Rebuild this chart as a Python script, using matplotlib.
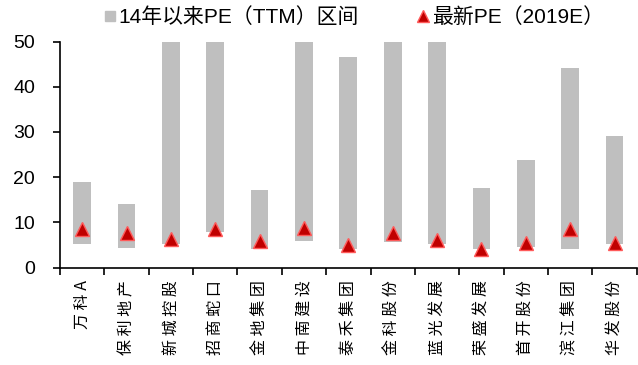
import matplotlib
matplotlib.use("Agg")
import matplotlib.pyplot as plt
import numpy as np
from matplotlib.lines import Line2D

plt.rcParams['font.family'] = ['Liberation Sans', 'Noto Sans CJK SC', 'DejaVu Sans']

companies = ["万科A", "保利地产", "新城控股", "招商蛇口", "金地集团", "中南建设", "泰禾集团",
             "金科股份", "蓝光发展", "荣盛发展", "首开股份", "滨江集团", "华发股份"]
pe_low = [5.1, 4.3, 5.1, 7.9, 4.0, 5.9, 4.1, 5.6, 5.1, 4.0, 4.5, 4.0, 5.1]
pe_high = [18.9, 14.0, 75.0, 62.0, 17.1, 68.0, 46.6, 58.0, 55.0, 17.7, 23.9, 44.2, 29.2]
pe_latest = [8.5, 7.6, 6.4, 8.5, 5.9, 8.8, 5.0, 7.6, 6.2, 4.2, 5.4, 8.5, 5.4]
y_ticks = [0, 10, 20, 30, 40, 50]

range_label = "14年以来PE（TTM）区间"
latest_label = "最新PE（2019E）"

bar_color = "#BFBFBF"
tri_face = "#C00000"
tri_edge = "#FF5A5A"

fig = plt.figure(figsize=(6.38, 3.65), dpi=100)
ax = fig.add_axes([0.094, 0.267, 0.904, 0.619])

x = np.arange(len(companies))
low = np.array(pe_low)
high = np.array(pe_high)
ax.bar(x, high - low, bottom=low, width=0.4, color=bar_color, zorder=2)
ax.plot(x, pe_latest, linestyle="none", marker="^", markersize=10,
        markerfacecolor=tri_face, markeredgecolor=tri_edge, markeredgewidth=1.0, zorder=3)

ax.set_xlim(-0.5, len(companies) - 0.5)
ax.set_ylim(0, 50)
ax.set_yticks(y_ticks)
ax.set_yticklabels([str(v) for v in y_ticks], fontsize=14)

# category names are written vertically, one spaced character after another
spaced_names = [" ".join(name) for name in companies]
ax.set_xticks(np.arange(len(companies) + 1) - 0.5)
ax.set_xticklabels([])
ax.set_xticks(x, minor=True)
ax.set_xticklabels(spaced_names, minor=True, rotation=90, fontsize=11.5,
                   family=['Noto Sans CJK SC', 'Liberation Sans'], va='top', ha='center')
ax.tick_params(axis='x', which='minor', length=0, pad=9)
ax.tick_params(axis='x', which='major', length=5, width=1.2, direction='out', color='black')
ax.tick_params(axis='y', length=5, width=1.2, direction='out', color='black', pad=13)

for s in ["top", "right"]:
    ax.spines[s].set_visible(False)
for s in ["left", "bottom"]:
    ax.spines[s].set_linewidth(1.2)
    ax.spines[s].set_color("black")

handles = [
    Line2D([], [], linestyle="none", marker="s", markersize=7.5, markerfacecolor=bar_color,
           markeredgecolor=bar_color),
    Line2D([], [], linestyle="none", marker="^", markersize=8, markerfacecolor=tri_face,
           markeredgecolor=tri_edge),
]
fig.legend(handles, [range_label, latest_label], loc="center left", ncol=2,
           bbox_to_anchor=(0.163, 0.953), frameon=False, fontsize=15,
           borderpad=0, borderaxespad=0,
           handlelength=0.55, handletextpad=0.15, columnspacing=2.8)

fig.savefig("out.png", dpi=100)
